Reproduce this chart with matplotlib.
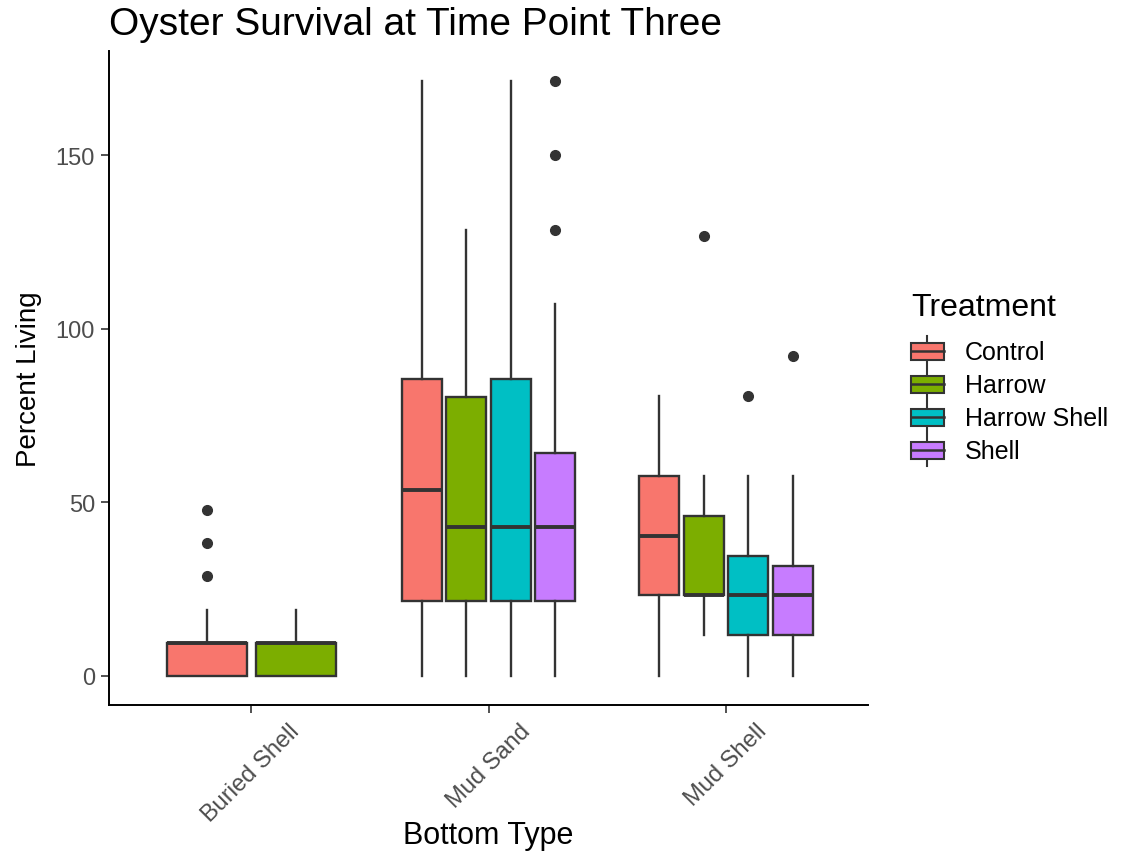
import matplotlib
matplotlib.use("Agg")
import matplotlib.pyplot as plt
from matplotlib.legend_handler import HandlerBase
from matplotlib.patches import Rectangle
from matplotlib.lines import Line2D

plt.rcParams['font.family'] = ['Liberation Sans', 'DejaVu Sans']

# data
categories = ["Buried Shell", "Mud Sand", "Mud Shell"]
treatments = ["Control", "Harrow", "Harrow Shell", "Shell"]
colors = ["#F8766D", "#7CAE00", "#00BFC4", "#C77CFF"]

# per category: list of (treatment index, whislo, q1, med, q3, whishi, fliers)
buried_shell = [
    (0, 0, 0, 9.5, 9.5, 19.0, [28.6, 38.1, 47.6]),
    (1, 0, 0, 9.5, 9.5, 19.0, []),
]
mud_sand = [
    (0, 0, 21.6, 53.6, 85.5, 171.4, []),
    (1, 0, 21.6, 42.8, 80.2, 128.4, []),
    (2, 0, 21.6, 42.8, 85.5, 171.4, []),
    (3, 0, 21.6, 42.8, 64.2, 107.0, [128.5, 150.0, 171.4]),
]
mud_shell = [
    (0, 0, 23.2, 40.2, 57.5, 80.5, []),
    (1, 11.6, 23.2, 23.2, 45.9, 57.5, [126.7]),
    (2, 0, 11.6, 23.2, 34.5, 57.5, [80.5]),
    (3, 0, 11.6, 23.2, 31.6, 57.5, [92.0]),
]
groups = [buried_shell, mud_sand, mud_shell]

fig = plt.figure(figsize=(11.35, 8.53), dpi=100)
ax = fig.add_axes([0.096, 0.172, 0.669, 0.767])

edge = "#333333"
for ci, grp in enumerate(groups):
    n = len(grp)
    slot = 0.75 / n
    for k, (ti, lo, q1, med, q3, hi, fl) in enumerate(grp):
        pos = ci + 1 - 0.375 + slot * (k + 0.5)
        st = dict(whislo=lo, q1=q1, med=med, q3=q3, whishi=hi, fliers=fl)
        ax.bxp([st], positions=[pos], widths=slot * 0.9, patch_artist=True,
               showcaps=False,
               boxprops=dict(facecolor=colors[ti], edgecolor=edge, linewidth=1.7),
               medianprops=dict(color=edge, linewidth=2.8),
               whiskerprops=dict(color=edge, linewidth=1.7),
               flierprops=dict(marker='o', markersize=7, markerfacecolor=edge,
                               markeredgecolor=edge))

ax.set_xlim(0.4, 3.6)
ax.set_ylim(-8.57, 180.0)
ax.set_xticks([1, 2, 3])
ax.set_xticklabels(categories, rotation=45, ha='center', va='top',
                   fontsize=17, color="#4D4D4D")
ax.set_yticks([0, 50, 100, 150])
ax.set_yticklabels(["0", "50", "100", "150"], fontsize=17, color="#4D4D4D")
ax.tick_params(length=6, width=1.2, color=edge, pad=4)
for s in ["top", "right"]:
    ax.spines[s].set_visible(False)
for s in ["left", "bottom"]:
    ax.spines[s].set_linewidth(1.4)

ax.set_xlabel("Bottom Type", fontsize=22)
ax.xaxis.set_label_coords(0.5, -0.176)
ax.set_ylabel("Percent Living", fontsize=20, labelpad=10)
ax.set_title("Oyster Survival at Time Point Three", fontsize=28, loc='left',
             x=0.0, pad=12)


class BoxKey(HandlerBase):
    def create_artists(self, legend, orig, xd, yd, w, h, fontsize, trans):
        fc = orig.get_facecolor()
        r = Rectangle((xd, yd), w, h, facecolor=fc,
                      edgecolor=edge, linewidth=1.5, transform=trans)
        cx = xd + w / 2
        top = Line2D([cx, cx], [yd + h, yd + h + 5], color=edge, lw=1.5,
                     transform=trans)
        bot = Line2D([cx, cx], [yd, yd - 5], color=edge, lw=1.5,
                     transform=trans)
        med = Line2D([xd, xd + w], [yd + h / 2, yd + h / 2], color=edge, lw=1.8,
                     transform=trans)
        return [top, bot, r, med]


handles = [Rectangle((0, 0), 1, 1, facecolor=c) for c in colors]
leg = fig.legend(handles, treatments, handler_map={Rectangle: BoxKey()},
                 loc='upper left', bbox_to_anchor=(0.794, 0.668),
                 title="Treatment", title_fontsize=23, fontsize=18,
                 frameon=False, handlelength=1.3, handleheight=0.65,
                 labelspacing=0.36, handletextpad=0.85, alignment='left',
                 borderaxespad=0.0)
leg._legend_box.sep = 13

fig.savefig("out.png", dpi=100)
